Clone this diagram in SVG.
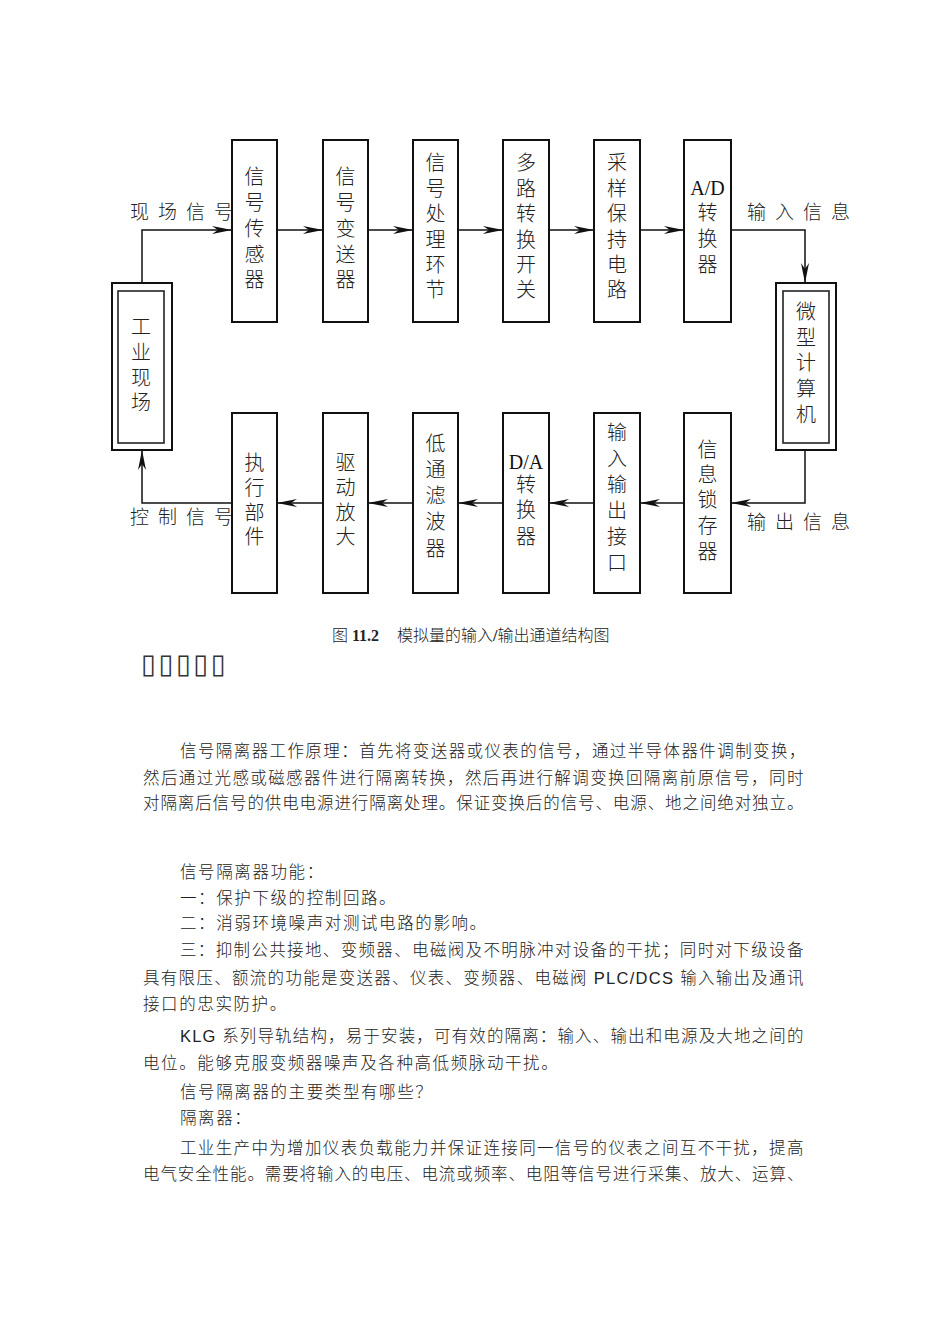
<svg xmlns="http://www.w3.org/2000/svg" width="950" height="1344" viewBox="0 0 950 1344">
<style>
.box{fill:#fff;stroke:#111;stroke-width:2}
.inner{fill:#fff;stroke:#222;stroke-width:1.6}
.lbl{font-family:"Noto Sans CJK SC",sans-serif;font-weight:300;font-size:20px;fill:#222;text-anchor:middle}
.lat{font-family:"Liberation Serif",serif;font-size:20px;fill:#111;text-anchor:middle}
.sig{font-family:"Noto Sans CJK SC",sans-serif;font-weight:300;font-size:19px;fill:#222;letter-spacing:9px}
.con{fill:none;stroke:#111;stroke-width:1.5}
.body{font-family:"Liberation Sans","Noto Sans CJK SC",sans-serif;font-weight:300;font-size:16.5px;fill:#222;letter-spacing:1.6px}
.cap{font-family:"Liberation Serif","Noto Sans CJK SC",serif;font-size:16px;fill:#222}
</style>
<defs>
<marker id="ah" viewBox="0 0 20 8" refX="20" refY="4" markerWidth="20" markerHeight="8" markerUnits="userSpaceOnUse" orient="auto">
<path d="M0,0 L20,4 L0,8 L6,4 z" fill="#111"/>
</marker>
</defs>
<rect width="950" height="1344" fill="#fff"/>

<g id="connectors">
<path class="con" d="M142,283 V230 H232" marker-end="url(#ah)"/>
<path class="con" d="M277,230 H323" marker-end="url(#ah)"/>
<path class="con" d="M368,230 H413" marker-end="url(#ah)"/>
<path class="con" d="M458,230 H503" marker-end="url(#ah)"/>
<path class="con" d="M549,230 H594" marker-end="url(#ah)"/>
<path class="con" d="M640,230 H684" marker-end="url(#ah)"/>
<path class="con" d="M731,230 H805 V283" marker-end="url(#ah)"/>
<path class="con" d="M805,450 V503 H731" marker-end="url(#ah)"/>
<path class="con" d="M684,503 H640" marker-end="url(#ah)"/>
<path class="con" d="M594,503 H549" marker-end="url(#ah)"/>
<path class="con" d="M503,503 H458" marker-end="url(#ah)"/>
<path class="con" d="M413,503 H368" marker-end="url(#ah)"/>
<path class="con" d="M323,503 H277" marker-end="url(#ah)"/>
<path class="con" d="M232,503 H142 V450" marker-end="url(#ah)"/>
<text class="sig" x="130" y="219">现场信号</text>
<text class="sig" x="747" y="219">输入信息</text>
<text class="sig" x="747" y="529">输出信息</text>
<text class="sig" x="130" y="524">控制信号</text>
</g>

<g id="n-field">
<rect class="box" x="112" y="283" width="60" height="167"/>
<rect class="inner" x="118" y="291" width="46" height="152"/>
<text class="lbl"><tspan x="141" y="334">工</tspan><tspan x="141" y="360">业</tspan><tspan x="141" y="385">现</tspan><tspan x="141" y="410">场</tspan></text>
</g>

<g id="n-sensor">
<rect class="box" x="232" y="140" width="45" height="182"/>
<text class="lbl"><tspan x="254.5" y="184">信</tspan><tspan x="254.5" y="210">号</tspan><tspan x="254.5" y="236">传</tspan><tspan x="254.5" y="262">感</tspan><tspan x="254.5" y="287">器</tspan></text>
</g>
<g id="n-transmitter">
<rect class="box" x="323" y="140" width="45" height="182"/>
<text class="lbl"><tspan x="345.5" y="184">信</tspan><tspan x="345.5" y="210">号</tspan><tspan x="345.5" y="236">变</tspan><tspan x="345.5" y="262">送</tspan><tspan x="345.5" y="287">器</tspan></text>
</g>
<g id="n-process">
<rect class="box" x="413" y="140" width="45" height="182"/>
<text class="lbl"><tspan x="435.5" y="170">信</tspan><tspan x="435.5" y="196">号</tspan><tspan x="435.5" y="221">处</tspan><tspan x="435.5" y="247">理</tspan><tspan x="435.5" y="272">环</tspan><tspan x="435.5" y="297">节</tspan></text>
</g>
<g id="n-mux">
<rect class="box" x="503" y="140" width="46" height="182"/>
<text class="lbl"><tspan x="526" y="170">多</tspan><tspan x="526" y="196">路</tspan><tspan x="526" y="221">转</tspan><tspan x="526" y="247">换</tspan><tspan x="526" y="272">开</tspan><tspan x="526" y="297">关</tspan></text>
</g>
<g id="n-sh">
<rect class="box" x="594" y="140" width="46" height="182"/>
<text class="lbl"><tspan x="617" y="170">采</tspan><tspan x="617" y="196">样</tspan><tspan x="617" y="221">保</tspan><tspan x="617" y="247">持</tspan><tspan x="617" y="272">电</tspan><tspan x="617" y="297">路</tspan></text>
</g>
<g id="n-adc">
<rect class="box" x="684" y="140" width="47" height="182"/>
<text class="lat" x="707.5" y="195">A/D</text>
<text class="lbl"><tspan x="707.5" y="220">转</tspan><tspan x="707.5" y="246">换</tspan><tspan x="707.5" y="272">器</tspan></text>
</g>

<g id="n-computer">
<rect class="box" x="776" y="283" width="60" height="167"/>
<rect class="inner" x="783" y="291" width="46" height="152"/>
<text class="lbl"><tspan x="806" y="319">微</tspan><tspan x="806" y="345">型</tspan><tspan x="806" y="370">计</tspan><tspan x="806" y="396">算</tspan><tspan x="806" y="422">机</tspan></text>
</g>

<g id="n-actuator">
<rect class="box" x="232" y="413" width="45" height="180"/>
<text class="lbl"><tspan x="254.5" y="470">执</tspan><tspan x="254.5" y="495">行</tspan><tspan x="254.5" y="520">部</tspan><tspan x="254.5" y="544">件</tspan></text>
</g>
<g id="n-driver">
<rect class="box" x="323" y="413" width="45" height="180"/>
<text class="lbl"><tspan x="345.5" y="470">驱</tspan><tspan x="345.5" y="495">动</tspan><tspan x="345.5" y="520">放</tspan><tspan x="345.5" y="544">大</tspan></text>
</g>
<g id="n-lpf">
<rect class="box" x="413" y="413" width="45" height="180"/>
<text class="lbl"><tspan x="435.5" y="451">低</tspan><tspan x="435.5" y="477">通</tspan><tspan x="435.5" y="503">滤</tspan><tspan x="435.5" y="529">波</tspan><tspan x="435.5" y="556">器</tspan></text>
</g>
<g id="n-dac">
<rect class="box" x="503" y="413" width="46" height="180"/>
<text class="lat" x="526" y="469">D/A</text>
<text class="lbl"><tspan x="526" y="492">转</tspan><tspan x="526" y="517">换</tspan><tspan x="526" y="544">器</tspan></text>
</g>
<g id="n-io">
<rect class="box" x="594" y="413" width="46" height="180"/>
<text class="lbl"><tspan x="617" y="440">输</tspan><tspan x="617" y="466">入</tspan><tspan x="617" y="492">输</tspan><tspan x="617" y="518">出</tspan><tspan x="617" y="544">接</tspan><tspan x="617" y="570">口</tspan></text>
</g>
<g id="n-latch">
<rect class="box" x="684" y="413" width="47" height="180"/>
<text class="lbl"><tspan x="707.5" y="457">信</tspan><tspan x="707.5" y="482">息</tspan><tspan x="707.5" y="507">锁</tspan><tspan x="707.5" y="533">存</tspan><tspan x="707.5" y="559">器</tspan></text>
</g>

<g id="caption">
<text class="cap" x="332" y="641" font-weight="300">图</text>
<text class="cap" x="352" y="641" font-weight="bold">11.2</text>
<text class="cap" x="397" y="641" font-weight="300">模拟量的输入<tspan font-weight="bold">/</tspan>输出通道结构图</text>
</g>

<text x="141" y="673" font-family="DejaVu Sans,sans-serif" font-size="27" fill="#333" letter-spacing="2.6">▯▯▯▯▯</text>

<g id="body">
<text class="body" x="180" y="757" textLength="627" lengthAdjust="spacing">信号隔离器工作原理：首先将变送器或仪表的信号，通过半导体器件调制变换，</text>
<text class="body" x="143" y="784" textLength="662" lengthAdjust="spacing">然后通过光感或磁感器件进行隔离转换，然后再进行解调变换回隔离前原信号，同时</text>
<text class="body" x="143" y="809" textLength="662" lengthAdjust="spacing">对隔离后信号的供电电源进行隔离处理。保证变换后的信号、电源、地之间绝对独立。</text>
<text class="body" x="180" y="878">信号隔离器功能：</text>
<text class="body" x="180" y="904">一：保护下级的控制回路。</text>
<text class="body" x="180" y="929">二：消弱环境噪声对测试电路的影响。</text>
<text class="body" x="180" y="956" textLength="625" lengthAdjust="spacing">三：抑制公共接地、变频器、电磁阀及不明脉冲对设备的干扰；同时对下级设备</text>
<text class="body" x="143" y="984" textLength="662" lengthAdjust="spacing">具有限压、额流的功能是变送器、仪表、变频器、电磁阀 PLC/DCS 输入输出及通讯</text>
<text class="body" x="143" y="1010">接口的忠实防护。</text>
<text class="body" x="180" y="1042" textLength="625" lengthAdjust="spacing">KLG 系列导轨结构，易于安装，可有效的隔离：输入、输出和电源及大地之间的</text>
<text class="body" x="143" y="1069">电位。能够克服变频器噪声及各种高低频脉动干扰。</text>
<text class="body" x="180" y="1098">信号隔离器的主要类型有哪些？</text>
<text class="body" x="180" y="1124">隔离器：</text>
<text class="body" x="180" y="1154" textLength="625" lengthAdjust="spacing">工业生产中为增加仪表负载能力并保证连接同一信号的仪表之间互不干扰，提高</text>
<text class="body" x="143" y="1180" textLength="662" lengthAdjust="spacing">电气安全性能。需要将输入的电压、电流或频率、电阻等信号进行采集、放大、运算、</text>
</g>
</svg>
